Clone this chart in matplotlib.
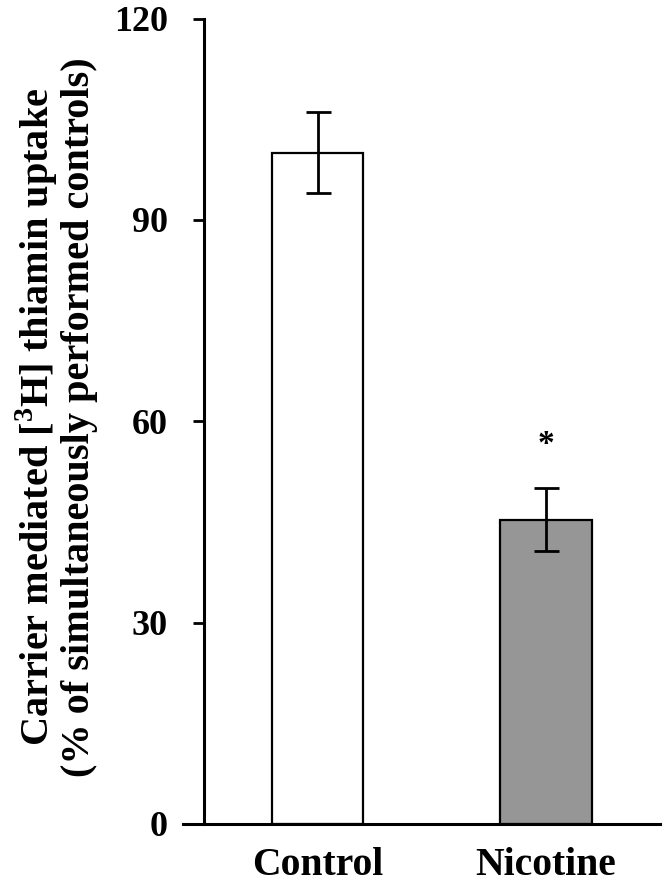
import matplotlib
matplotlib.use("Agg")
import matplotlib.pyplot as plt

plt.rcParams['font.family'] = ['Liberation Serif', 'DejaVu Serif']
plt.rcParams['font.weight'] = 'bold'
plt.rcParams['mathtext.fontset'] = 'custom'
plt.rcParams['mathtext.rm'] = 'Liberation Serif:bold'
plt.rcParams['mathtext.bf'] = 'Liberation Serif:bold'

groups = ['Control', 'Nicotine']
uptake = [100, 45.3]
sem = [6.0, 4.7]
colors = ['white', '#969696']
star_y = 56.5

fig = plt.figure(figsize=(6.66, 8.83), dpi=100)
ax = fig.add_axes([0.306, 0.067, 0.685, 0.912])

x = range(len(groups))
ax.bar(x, uptake, width=0.4, color=colors, edgecolor='black', linewidth=1.6, zorder=2)
ax.errorbar(x, uptake, yerr=sem, fmt='none', ecolor='black', elinewidth=2,
            capsize=9, capthick=2, zorder=3)
ax.text(1, star_y, '*', ha='center', va='center', fontsize=24, fontweight='bold')

ax.set_xlim(-0.5, 1.5)
ax.set_ylim(0, 120)
ax.set_yticks([0, 30, 60, 90, 120])
ax.set_xticks(list(x))
ax.set_xticklabels(groups)
ax.tick_params(axis='y', direction='out', length=8, width=2, labelsize=26, pad=18)
ax.tick_params(axis='x', length=0, labelsize=28.5, pad=17)
for lab in ax.get_xticklabels() + ax.get_yticklabels():
    lab.set_fontweight('bold')

for side in ['top', 'right']:
    ax.spines[side].set_visible(False)
for side in ['left', 'bottom']:
    ax.spines[side].set_linewidth(2.2)
ax.spines['bottom'].set_bounds(-0.59, 1.5)

ax.set_ylabel('Carrier mediated [$^{3}$H] thiamin uptake\n(% of simultaneously performed controls)',
              fontsize=29, fontweight='bold', linespacing=1.05)
ax.yaxis.set_label_coords(-0.232, 0.505)

fig.savefig('out.png', dpi=100)
